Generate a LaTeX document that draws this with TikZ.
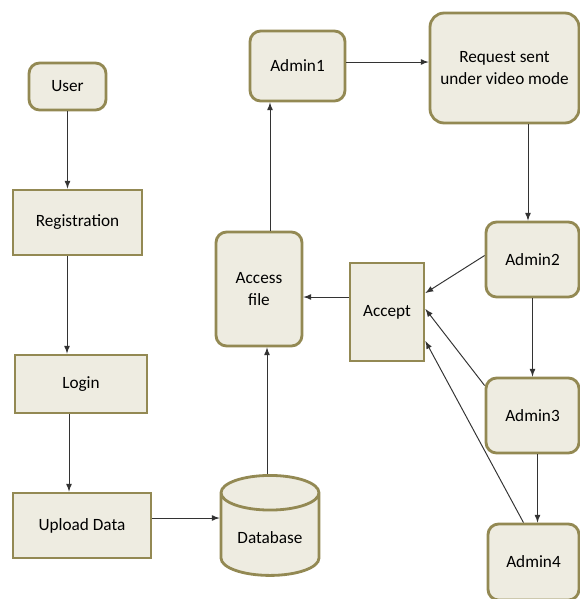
\documentclass[tikz,border=0pt]{standalone}
\usepackage{fontspec}
\setmainfont{Carlito}
\usetikzlibrary{shapes.geometric}
\definecolor{boxfill}{HTML}{EEECE1}
\definecolor{boxline}{HTML}{938953}

\begin{document}
\begin{tikzpicture}[>=latex,x=0.02cm,y=-0.02cm,
	box/.style={draw=boxline,fill=boxfill,line width=1.6pt,inner sep=2pt,align=center,font=\fontsize{9.8}{12}\selectfont},
	rbox/.style={box,rounded corners=6pt},
	db/.style={box,cylinder,shape border rotate=90,aspect=0.48},
	link/.style={->,draw=black!80,line width=0.55pt}]
	\useasboundingbox (0,0) rectangle (579,599);

	% left column
	\node[rbox,minimum width=1.54cm,minimum height=0.94cm] (user) at (67.5,86.5) {User};
	\node[box,minimum width=2.58cm,minimum height=1.3cm] (reg) at (77.5,222.5) {Registration};
	\node[box,minimum width=2.64cm,minimum height=1.16cm] (login) at (81,384) {Login};
	\node[box,minimum width=2.76cm,minimum height=1.3cm] (upload) at (82,525.5) {Upload Data};

	% middle
	\node[db,minimum width=1.96cm,minimum height=2cm] (base) at (270,538) {Database};
	\node[rbox,minimum width=1.72cm,minimum height=2.28cm] (access) at (259,289) {Access\\file};
	\node[box,minimum width=1.48cm,minimum height=1.96cm] (accept) at (387,312) {Accept};
	\node[rbox,minimum width=1.9cm,minimum height=1.4cm] (admin1) at (297.5,66) {Admin1};

	% right column
	\node[box,rounded corners=8pt,minimum width=2.98cm,minimum height=2.2cm] (request) at (504.5,68) {Request sent\\under video mode};
	\node[rbox,minimum width=1.86cm,minimum height=1.5cm] (admin2) at (532.5,259.5) {Admin2};
	\node[rbox,minimum width=1.86cm,minimum height=1.5cm] (admin3) at (532.5,415.5) {Admin3};
	\node[rbox,minimum width=1.82cm,minimum height=1.52cm] (admin4) at (533.5,562) {Admin4};

	% flow
	\draw[link] (user.south) -- (user.south |- reg.north);
	\draw[link] ([xshift=-.21cm]reg.south) -- ([xshift=-.21cm]reg.south |- login.north);
	\draw[link] ([xshift=-.24cm]login.south) -- ([xshift=-.24cm]login.south |- upload.north);
	\draw[link] ([yshift=.15cm]upload.east) -- ([yshift=.15cm]upload.east -| base.west);
	\draw[link] ([xshift=-.06cm]base.north) -- ([xshift=-.06cm]base.north |- access.south);
	\draw[link] ([xshift=.22cm]access.north) -- ([xshift=.22cm]access.north |- admin1.south);
	\draw[link] ([yshift=.08cm]admin1.east) -- ([yshift=.08cm]admin1.east -| request.west);
	\draw[link] ([xshift=.47cm]request.south) -- ([xshift=.47cm]request.south |- admin2.north);

	% answers
	\draw[link] ([yshift=.08cm]admin2.west) -- ([yshift=.38cm]accept.east);
	\draw[link] ([yshift=.6cm]admin3.west) -- ([yshift=.06cm]accept.east);
	\draw[link] ([xshift=-.2cm]admin4.north) -- ([yshift=-.58cm]accept.east);
	\draw[link] (admin2.south) -- (admin3.north);
	\draw[link] ([xshift=.1cm]admin3.south) -- ([xshift=.1cm]admin3.south |- admin4.north);
	\draw[link] ([yshift=.3cm]accept.west) -- ([yshift=.3cm]accept.west -| access.east);
\end{tikzpicture}
\end{document}
